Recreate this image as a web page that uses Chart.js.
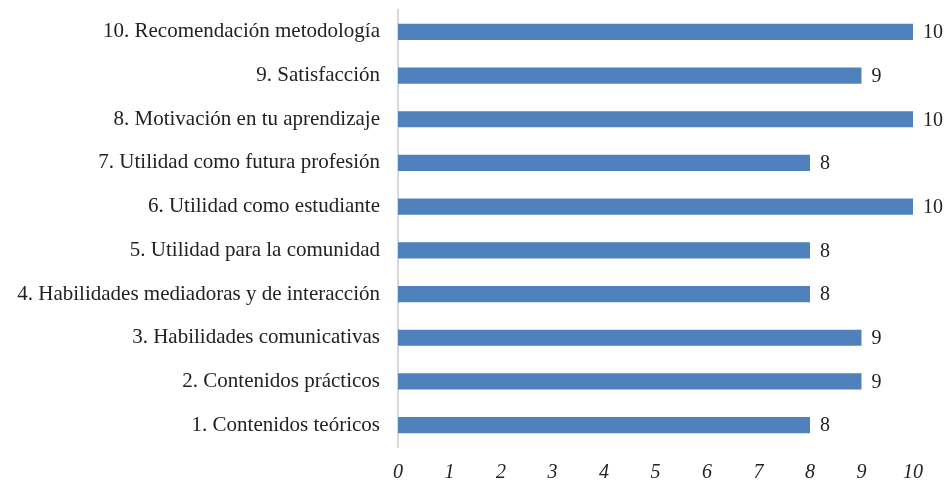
<!DOCTYPE html>
<html>
<head>
<meta charset="utf-8">
<script src="https://cdn.jsdelivr.net/npm/chart.js@4/dist/chart.umd.min.js"></script>
<style>
  html, body { margin: 0; padding: 0; background: #fff; }
  #wrap { width: 948px; height: 482px; }
</style>
</head>
<body>
<div id="wrap"><canvas id="chart" width="948" height="482"></canvas></div>
<script>
// categories listed top to bottom as in the picture
const categories = [
  '10. Recomendación metodología',
  '9. Satisfacción',
  '8. Motivación en tu aprendizaje',
  '7. Utilidad como futura profesión',
  '6. Utilidad como estudiante',
  '5. Utilidad para la comunidad',
  '4. Habilidades mediadoras y de interacción',
  '3. Habilidades comunicativas',
  '2. Contenidos prácticos',
  '1. Contenidos teóricos'
];
const scores = [10, 9, 10, 8, 10, 8, 8, 9, 9, 8];
const xTicks = [0, 1, 2, 3, 4, 5, 6, 7, 8, 9, 10];

const serif = '"Liberation Serif", "Times New Roman", serif';

// draw the number next to the end of each bar
const valueLabels = {
  id: 'valueLabels',
  afterDatasetsDraw(chart) {
    const ctx = chart.ctx;
    const meta = chart.getDatasetMeta(0);
    ctx.save();
    ctx.font = '20px ' + serif;
    ctx.fillStyle = '#222';
    ctx.textAlign = 'left';
    ctx.textBaseline = 'middle';
    meta.data.forEach((bar, i) => {
      ctx.fillText(scores[i], bar.x + 10, bar.y + 1);
    });
    ctx.restore();
  }
};

const ctx = document.getElementById('chart').getContext('2d');
new Chart(ctx, {
  type: 'bar',
  data: {
    labels: categories,
    datasets: [{
      data: scores,
      backgroundColor: '#4f81bd',
      borderWidth: 0,
      categoryPercentage: 1,
      barPercentage: 0.37
    }]
  },
  options: {
    indexAxis: 'y',
    responsive: false,
    animation: false,
    layout: { padding: { top: 10, right: 35, left: 0, bottom: 0 } },
    plugins: {
      legend: { display: false },
      tooltip: { enabled: false }
    },
    scales: {
      x: {
        min: 0,
        max: 10,
        afterBuildTicks(scale) {
          scale.ticks = xTicks.map(v => ({ value: v }));
        },
        afterFit(scale) {
          scale.height = 35;
          scale.paddingLeft = 0;
          scale.paddingRight = 0;
        },
        grid: { display: false, drawTicks: false },
        border: { display: false },
        ticks: {
          color: '#222',
          padding: 14,
          maxRotation: 0,
          font: { family: serif, size: 20, style: 'italic' }
        }
      },
      y: {
        afterFit(scale) {
          scale.width = 398;
          scale.paddingTop = 0;
          scale.paddingBottom = 0;
        },
        grid: { display: false, drawTicks: false },
        border: { display: true, color: '#d9d9d9', width: 2 },
        ticks: {
          color: '#222',
          padding: 18,
          font: { family: serif, size: 21 }
        }
      }
    }
  },
  plugins: [valueLabels]
});
</script>
</body>
</html>
